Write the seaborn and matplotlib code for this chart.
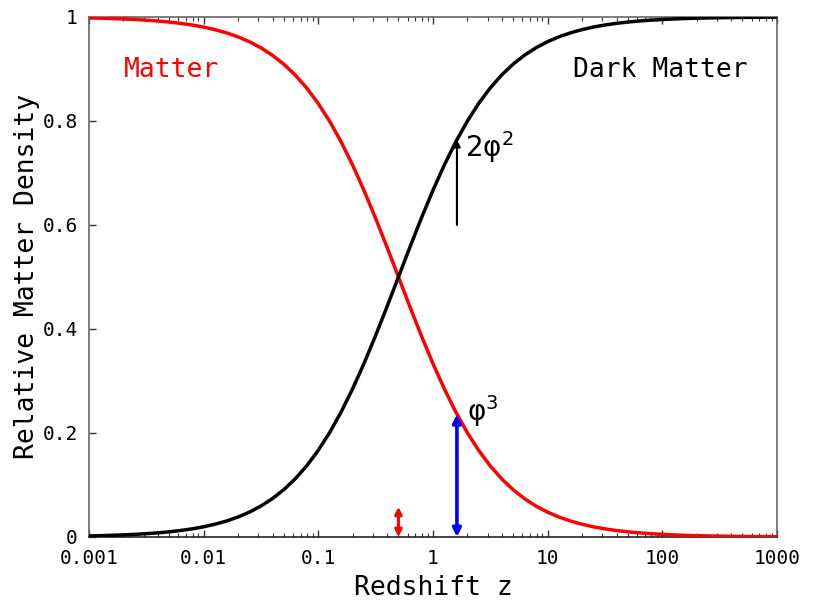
import matplotlib
matplotlib.use("Agg")
import matplotlib.pyplot as plt
import matplotlib.ticker as mticker
import numpy as np
import pandas as pd
import seaborn as sns

# Redshift sample points (0.1-decade steps from 0.001 to 1000)
redshift = [0.001, 0.001259, 0.001585, 0.001995, 0.002512, 0.003162, 0.003981,
            0.005012, 0.00631, 0.007943, 0.01, 0.01259, 0.01585, 0.01995, 0.02512,
            0.03162, 0.03981, 0.05012, 0.0631, 0.07943, 0.1, 0.1259, 0.1585, 0.1995,
            0.2512, 0.3162, 0.3981, 0.5012, 0.631, 0.7943, 1.0, 1.259, 1.585, 1.995,
            2.512, 3.162, 3.981, 5.012, 6.31, 7.943, 10.0, 12.59, 15.85, 19.95,
            25.12, 31.62, 39.81, 50.12, 63.1, 79.43, 100.0, 125.9, 158.5, 199.5,
            251.2, 316.2, 398.1, 501.2, 631.0, 794.3, 1000.0]

# Relative density of dark matter at each redshift
dark_matter = [0.0020, 0.0025, 0.0032, 0.0040, 0.0050, 0.0063, 0.0079, 0.0099,
               0.0125, 0.0156, 0.0196, 0.0246, 0.0307, 0.0384, 0.0478, 0.0595,
               0.0738, 0.0911, 0.1121, 0.1371, 0.1667, 0.2011, 0.2407, 0.2852,
               0.3344, 0.3874, 0.4432, 0.5006, 0.5579, 0.6137, 0.6667, 0.7157,
               0.7602, 0.7996, 0.8340, 0.8635, 0.8884, 0.9093, 0.9266, 0.9408,
               0.9524, 0.9618, 0.9694, 0.9755, 0.9805, 0.9844, 0.9876, 0.9901,
               0.9921, 0.9937, 0.9950, 0.9960, 0.9969, 0.9975, 0.9980, 0.9984,
               0.9987, 0.9990, 0.9992, 0.9994, 0.9995]

# Relative density of ordinary matter at each redshift
matter = [0.9980, 0.9975, 0.9968, 0.9960, 0.9950, 0.9937, 0.9921, 0.9901,
          0.9875, 0.9844, 0.9804, 0.9754, 0.9693, 0.9616, 0.9522, 0.9405,
          0.9262, 0.9089, 0.8879, 0.8629, 0.8333, 0.7989, 0.7593, 0.7148,
          0.6656, 0.6126, 0.5568, 0.4994, 0.4421, 0.3863, 0.3333, 0.2843,
          0.2398, 0.2004, 0.1660, 0.1365, 0.1116, 0.0907, 0.0734, 0.0592,
          0.0476, 0.0382, 0.0306, 0.0245, 0.0195, 0.0156, 0.0124, 0.0099,
          0.0079, 0.0063, 0.0050, 0.0040, 0.0031, 0.0025, 0.0020, 0.0016,
          0.0013, 0.0010, 0.0008, 0.0006, 0.0005]

# Marked quantities
z_equal = 0.5          # redshift where both densities are equal
z_mark = 1.618         # redshift of the golden-ratio markers
phi_cubed = 0.236      # matter fraction at z_mark
two_phi_sq = 0.764     # dark-matter fraction at z_mark
arrow_base = 0.6       # start of the dark-matter arrow
equal_arrow_top = 0.058

x_ticks = [0.001, 0.01, 0.1, 1, 10, 100, 1000]
x_tick_labels = ["0.001", "0.01", "0.1", "1", "10", "100", "1000"]
y_ticks = [0, 0.2, 0.4, 0.6, 0.8, 1]
y_tick_labels = ["0", "0.2", "0.4", "0.6", "0.8", "1"]

df = pd.DataFrame({"z": redshift * 2,
                   "density": matter + dark_matter,
                   "component": ["Matter"] * len(redshift) + ["Dark Matter"] * len(redshift)})

sns.set_style("ticks")
plt.rcParams["font.family"] = ["DejaVu Sans Mono", "DejaVu Sans"]
plt.rcParams["text.color"] = "black"
plt.rcParams["axes.labelcolor"] = "black"

fig = plt.figure(figsize=(8.14, 6.03), dpi=100)
ax = fig.add_axes([0.1093, 0.1095, 0.8452, 0.8625])

sns.lineplot(data=df, x="z", y="density", hue="component",
             palette={"Matter": "#ff0000", "Dark Matter": "#000000"},
             linewidth=2.5, legend=False, ax=ax, zorder=3)

ax.set_xscale("log")
ax.set_xlim(0.001, 1000)
ax.set_ylim(0, 1)
ax.set_xticks(x_ticks)
ax.set_xticklabels(x_tick_labels)
ax.xaxis.set_minor_locator(mticker.LogLocator(base=10, subs=np.arange(2, 10)))
ax.xaxis.set_minor_formatter(mticker.NullFormatter())
ax.set_yticks(y_ticks)
ax.set_yticklabels(y_tick_labels)

ax.tick_params(axis="both", which="major", direction="in", length=5, width=1,
               top=True, right=False, labelsize=14, colors="#333333", labelcolor="black")
ax.tick_params(axis="x", which="major", pad=9)
ax.tick_params(axis="y", which="major", pad=8)
ax.tick_params(axis="x", which="minor", direction="in", length=3, width=0.8,
               top=True, colors="#333333")
for side in ["left", "bottom", "right", "top"]:
    ax.spines[side].set_visible(True)
    ax.spines[side].set_color("#666666")
    ax.spines[side].set_linewidth(1.2)
ax.spines["bottom"].set_color("#222222")

ax.set_xlabel("Redshift z", fontsize=19, labelpad=5, color="black")
ax.set_ylabel("Relative Matter Density", fontsize=19, labelpad=2, color="black")

ax.text(0.051, 0.898, "Matter", color="#ff0000", fontsize=19,
        transform=ax.transAxes, va="center", ha="left")
ax.text(0.958, 0.898, "Dark Matter", color="black", fontsize=19,
        transform=ax.transAxes, va="center", ha="right")

# Dark-matter arrow up to 2*phi^2
ax.annotate("", xy=(z_mark, two_phi_sq), xytext=(z_mark, arrow_base),
            arrowprops=dict(arrowstyle="-|>", color="black", lw=1.5,
                            mutation_scale=10, shrinkA=0, shrinkB=0), zorder=4)
ax.annotate("2φ$^2$", xy=(z_mark, two_phi_sq), xytext=(6, -5),
            textcoords="offset points", fontsize=20, family="DejaVu Sans",
            va="center", ha="left", color="black")

# Matter fraction phi^3 at the same redshift
ax.annotate("", xy=(z_mark, phi_cubed), xytext=(z_mark, 0),
            arrowprops=dict(arrowstyle="<|-|>", color="#0000ff", lw=2.6,
                            mutation_scale=12, shrinkA=0, shrinkB=0), zorder=4)
ax.annotate("φ$^3$", xy=(z_mark, phi_cubed), xytext=(7, 2),
            textcoords="offset points", fontsize=20, family="DejaVu Sans",
            va="center", ha="left", color="black")

# Equality marker
ax.annotate("", xy=(z_equal, equal_arrow_top), xytext=(z_equal, 0),
            arrowprops=dict(arrowstyle="<|-|>", color="#ff0000", lw=2.2,
                            mutation_scale=10, shrinkA=0, shrinkB=0), zorder=4)

fig.savefig("out.png", dpi=100)
